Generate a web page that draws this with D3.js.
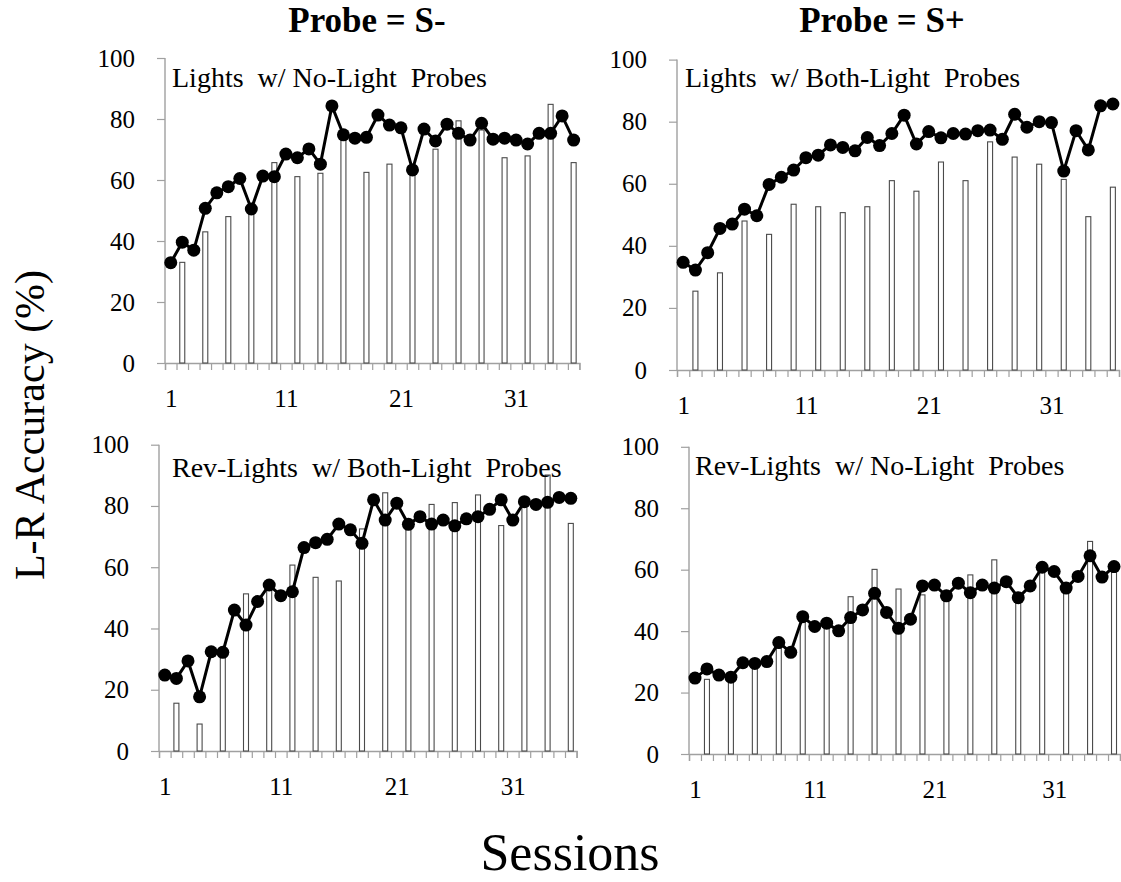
<!DOCTYPE html>
<html>
<head>
<meta charset="utf-8">
<script src="https://cdn.jsdelivr.net/npm/d3@7"></script>
<style>
  html, body { margin: 0; padding: 0; background: #fff; }
  svg { display: block; }
  text { font-family: "Liberation Serif", "Times New Roman", serif; fill: #000; }
</style>
</head>
<body>
<svg id="chart" width="1121" height="882"></svg>
<script>
// ---------------- DATA ----------------
const sessions = [1,2,3,4,5,6,7,8,9,10,11,12,13,14,15,16,17,18,19,20,21,22,23,24,25,26,27,28,29,30,31,32,33,34,35,36];
const barSessions = [2,4,6,8,10,12,14,16,18,20,22,24,26,28,30,32,34,36];
const xTickLabels = [1, 11, 21, 31];
const yTicks = [0, 20, 40, 60, 80, 100];

const columnTitles = ["Probe = S-", "Probe = S+"];
const panelTitles = [
  "Lights  w/ No-Light  Probes",
  "Lights  w/ Both-Light  Probes",
  "Rev-Lights  w/ Both-Light  Probes",
  "Rev-Lights  w/ No-Light  Probes"
];

// Top-left: Probe = S-, Lights w/ No-Light Probes
const lineTL = [32.9,39.6,37.0,50.7,55.8,57.8,60.5,50.5,61.3,61.1,
                68.5,67.3,70.2,65.2,84.3,74.8,73.7,74.0,81.3,78.0,
                77.1,63.3,76.7,72.8,78.3,75.3,73.1,78.6,73.4,73.7,
                73.1,71.8,75.3,75.3,81.0,73.1];
const barTL  = [33.0,43.0,48.0,49.5,65.7,61.1,62.2,74.5,62.5,65.2,62.5,70.1,79.4,76.4,67.3,67.9,84.8,65.7];

// Top-right: Probe = S+, Lights w/ Both-Light Probes
const lineTR = [34.7,32.2,37.8,45.6,47.0,51.8,49.7,59.8,62.1,64.4,
                68.4,69.2,72.5,71.7,70.6,74.9,72.3,76.2,82.1,72.8,
                76.8,74.8,76.2,76.0,77.1,77.3,74.3,82.4,78.2,80.0,
                79.7,64.1,77.1,70.9,85.1,85.7];
const barTR  = [25.4,31.3,48.0,43.7,53.4,52.6,50.7,52.6,61.0,57.6,67.0,61.0,73.5,68.6,66.3,61.4,49.4,58.9];

// Bottom-left: Probe = S-, Rev-Lights w/ Both-Light Probes
const lineBL = [24.8,23.7,29.4,17.7,32.4,32.2,46.0,41.1,48.8,54.2,
                50.7,52.0,66.4,68.0,69.1,74.1,72.2,67.8,82.0,75.4,
                80.9,74.0,76.5,74.1,75.4,73.5,75.8,76.5,78.9,82.0,
                75.4,81.4,80.5,81.2,82.8,82.5];
const barBL  = [15.6,8.8,31.0,51.3,52.5,60.7,56.7,55.5,72.5,84.3,73.0,80.5,81.1,83.6,73.6,80.0,90.1,74.3];

// Bottom-right: Probe = S+, Rev-Lights w/ No-Light Probes
const lineBR = [24.7,27.7,25.7,25.0,29.7,29.5,30.1,36.3,33.1,44.7,
                41.5,42.6,40.1,44.4,46.9,52.3,46.1,40.9,43.9,54.7,
                55.0,51.5,55.6,52.5,55.0,54.0,56.1,50.9,54.7,60.8,
                59.4,54.0,57.8,64.5,57.6,61.0];
const barBR  = [24.3,24.0,29.0,34.4,43.5,41.5,51.2,60.1,53.7,51.8,51.2,58.3,63.2,50.7,59.4,53.4,69.2,59.1];

const yLabel = "L-R Accuracy (%)";
const xLabel = "Sessions";

// ---------------- LAYOUT ----------------
const FONT = '"Liberation Serif", "Times New Roman", serif';
const panels = [
  { title: panelTitles[0], line: lineTL, bars: barTL, x0: 165, x1: 579.4, yTop: 58,    yBot: 363,   tx: 172, ty: 87 },
  { title: panelTitles[1], line: lineTR, bars: barTR, x0: 677, x1: 1119,  yTop: 59.6,  yBot: 370,   tx: 685, ty: 87 },
  { title: panelTitles[2], line: lineBL, bars: barBL, x0: 159, x1: 576.6, yTop: 444.7, yBot: 751,   tx: 172, ty: 477 },
  { title: panelTitles[3], line: lineBR, bars: barBR, x0: 689, x1: 1120,  yTop: 446.8, yBot: 754,   tx: 695, ty: 475 }
];

const svg = d3.select("#chart");
const axisColor = "#a0a0a0";

panels.forEach(p => {
  const g = svg.append("g");
  const x = d3.scaleLinear().domain([0.5, sessions.length + 0.5]).range([p.x0, p.x1]);
  const y = d3.scaleLinear().domain([0, 100]).range([p.yBot, p.yTop]);

  const ya = g.append("g").attr("transform", `translate(${p.x0},0)`)
    .call(d3.axisLeft(y).tickValues(yTicks).tickSize(8).tickPadding(22).tickFormat(d3.format("d")));
  const boundaries = d3.range(0, sessions.length + 1).map(i => i + 0.5);
  const xa = g.append("g").attr("transform", `translate(0,${p.yBot})`)
    .call(d3.axisBottom(x).tickValues(boundaries).tickSize(7).tickFormat(""));
  const xl = g.append("g").attr("transform", `translate(0,${p.yBot})`)
    .call(d3.axisBottom(x).tickValues(xTickLabels).tickSize(0).tickPadding(26).tickFormat(d3.format("d")));
  xl.select(".domain").remove();

  [ya, xa, xl].forEach(a => {
    a.attr("font-family", FONT);
    a.selectAll("path.domain").attr("stroke", axisColor).attr("stroke-width", 1.4);
    a.selectAll(".tick line").attr("stroke", axisColor).attr("stroke-width", 1.2);
    a.selectAll("text").style("font-family", FONT).attr("font-size", 25).attr("fill", "#000");
  });
  ya.select("path.domain").attr("d", `M0,${p.yBot}V${p.yTop}`);
  ya.selectAll(".tick line").attr("x1", 0);

  const bw = 5;
  g.append("g").selectAll("rect").data(p.bars).join("rect")
    .attr("x", (d, i) => x(barSessions[i]) - bw / 2)
    .attr("y", d => y(d))
    .attr("width", bw)
    .attr("height", d => y(0) - y(d))
    .attr("fill", "#fff")
    .attr("stroke", "#4a4a4a")
    .attr("stroke-width", 1.1);

  const line = d3.line().x((d, i) => x(sessions[i])).y(d => y(d));
  g.append("path").datum(p.line)
    .attr("d", line).attr("fill", "none").attr("stroke", "#000").attr("stroke-width", 3);
  g.append("g").selectAll("circle").data(p.line).join("circle")
    .attr("cx", (d, i) => x(sessions[i])).attr("cy", d => y(d)).attr("r", 6.5).attr("fill", "#000");

  g.append("text").attr("x", p.tx).attr("y", p.ty)
    .style("font-family", FONT)
    .attr("font-size", 28).attr("xml:space", "preserve").style("white-space", "pre")
    .text(p.title);
});

svg.append("text").attr("x", 367).attr("y", 32).attr("text-anchor", "middle").style("font-family", FONT)
  .attr("font-size", 35).attr("font-weight", "bold").text(columnTitles[0]);
svg.append("text").attr("x", 882).attr("y", 32).attr("text-anchor", "middle").style("font-family", FONT)
  .attr("font-size", 35).attr("font-weight", "bold").text(columnTitles[1]);

svg.append("text").attr("transform", "translate(44,425) rotate(-90)").attr("text-anchor", "middle")
  .style("font-family", FONT).attr("font-size", 42).text(yLabel);
svg.append("text").attr("x", 570).attr("y", 870).attr("text-anchor", "middle")
  .style("font-family", FONT).attr("font-size", 52).text(xLabel);
</script>
</body>
</html>
